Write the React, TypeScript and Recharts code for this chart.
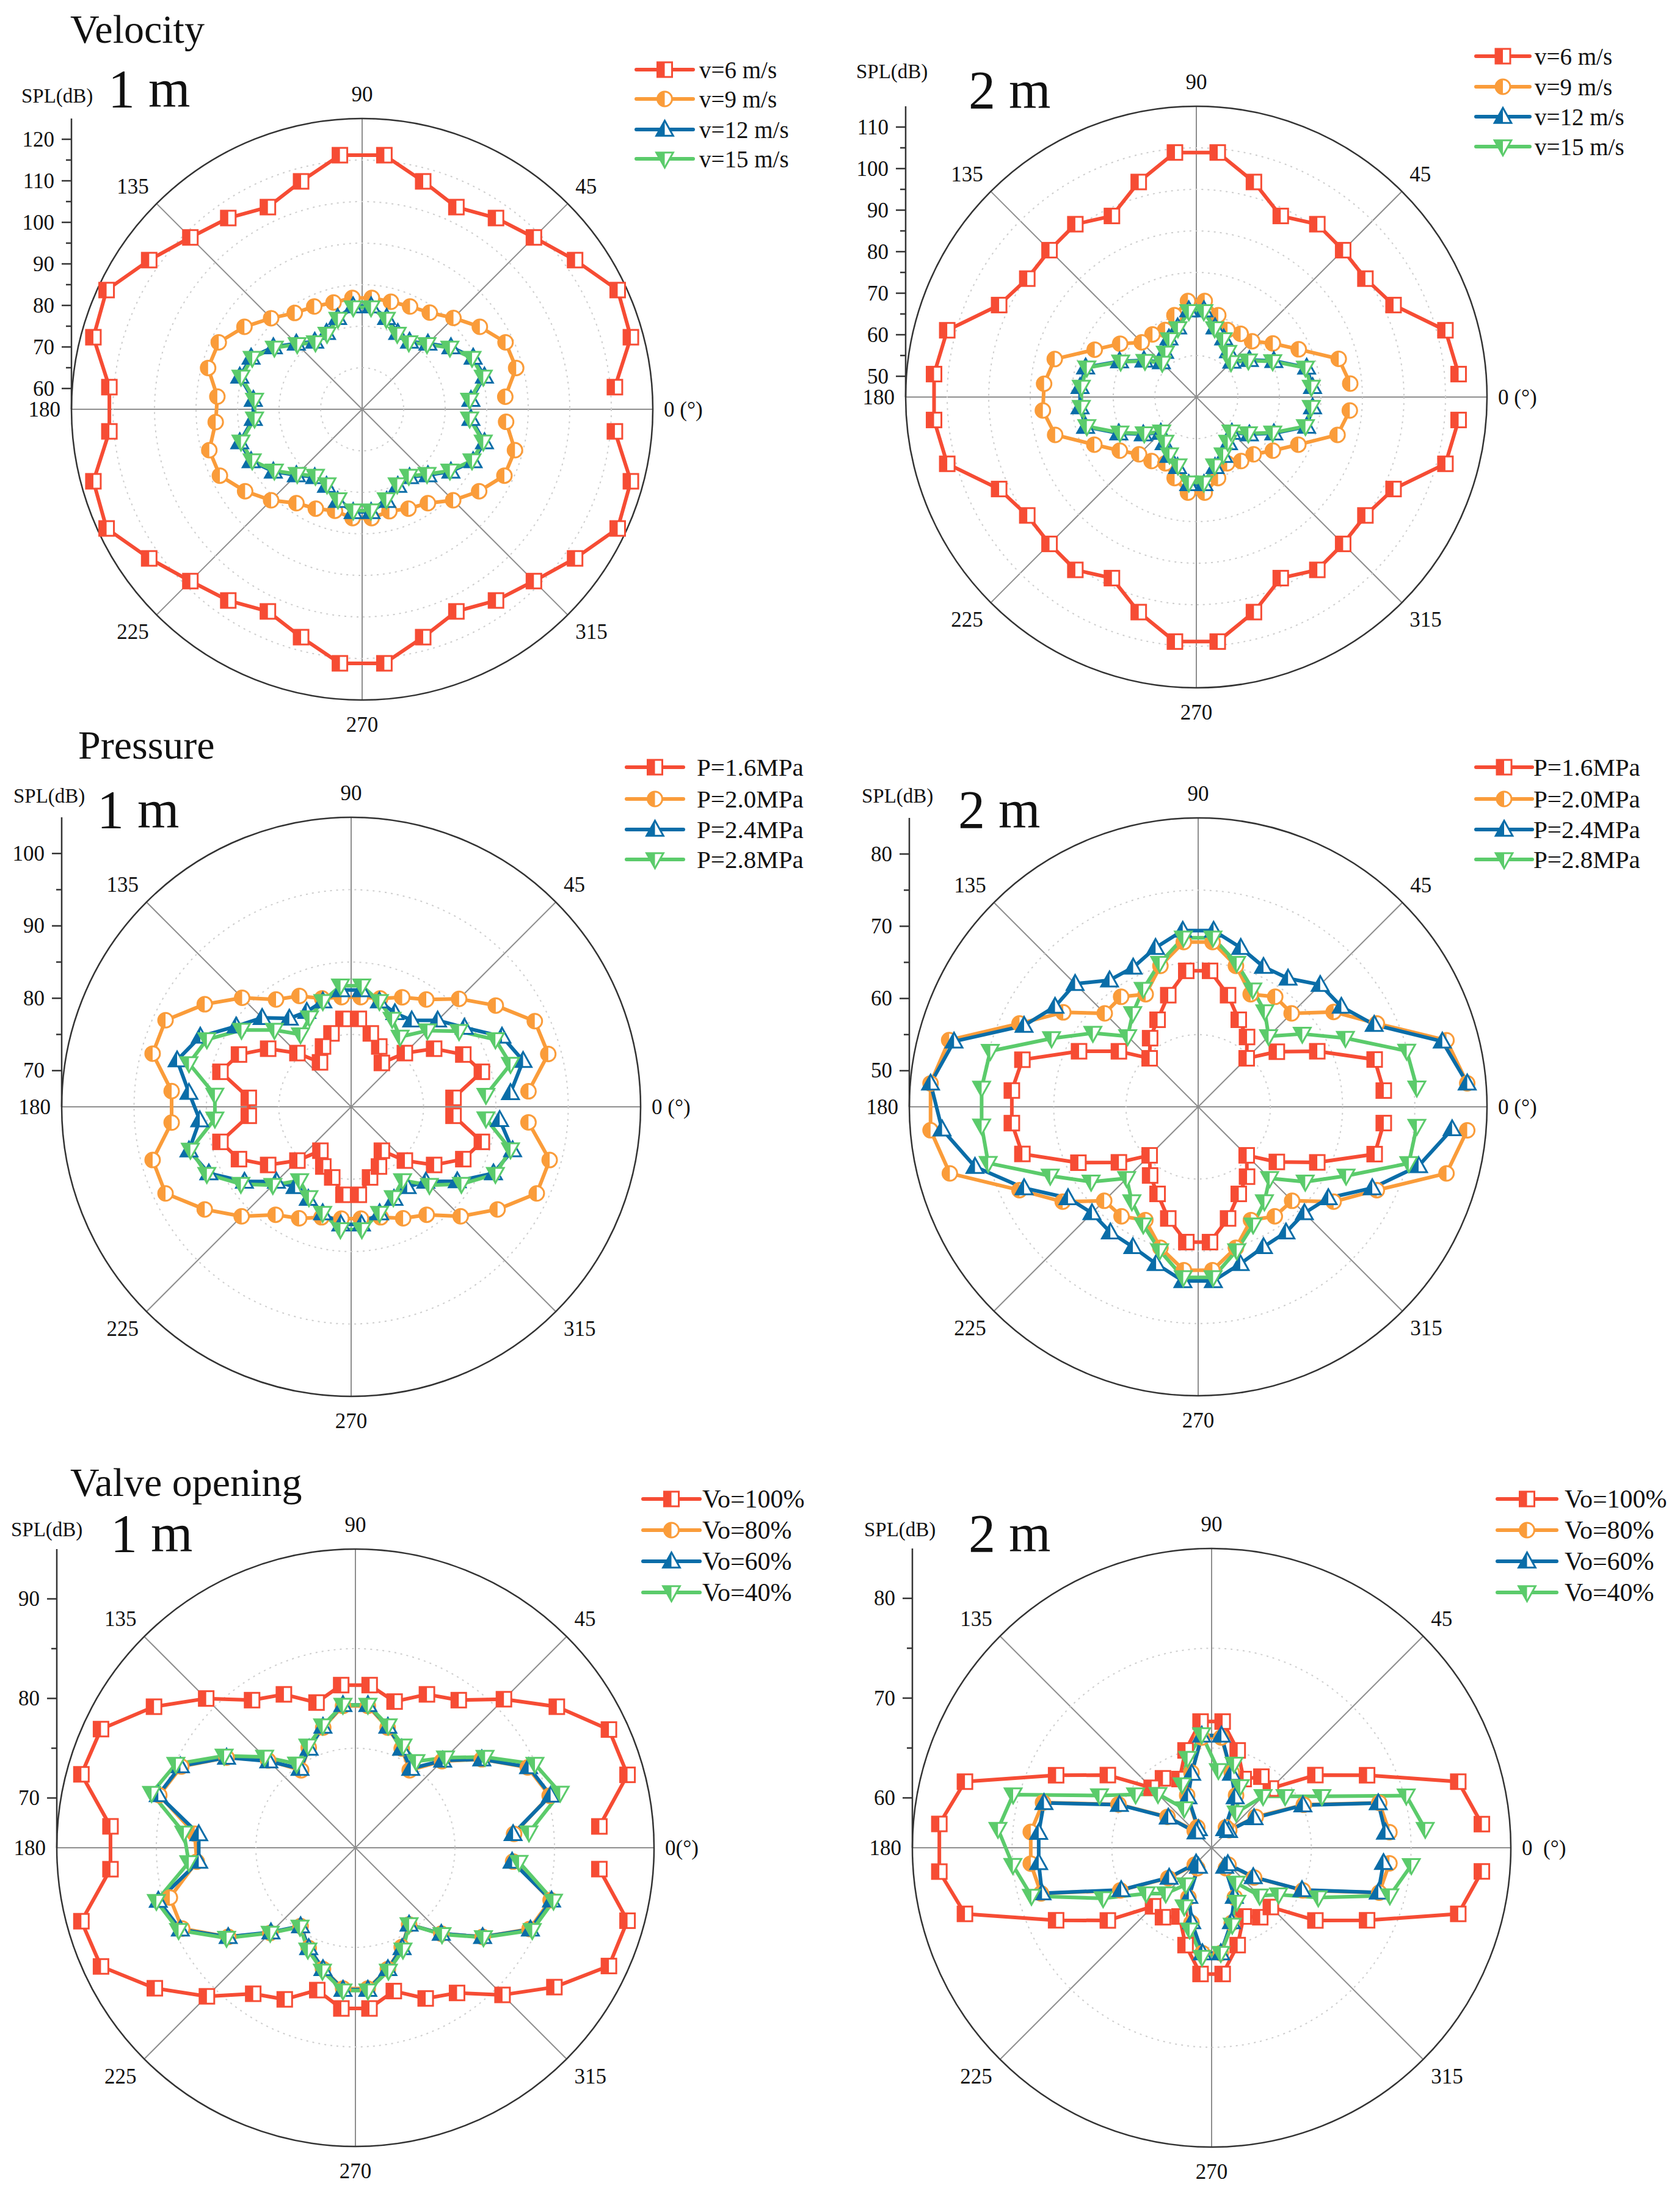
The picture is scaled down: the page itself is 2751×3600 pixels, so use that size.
import React from 'react';
import {
  RadarChart,
  Radar,
  PolarGrid,
  PolarAngleAxis,
  PolarRadiusAxis,
  ComposedChart,
  YAxis,
} from 'recharts';

const FONT = '"Liberation Serif", "Times New Roman", serif';
const RED = '#F64C34';
const ORANGE = '#FA9C3A';
const BLUE = '#0A6DA8';
const GREEN = '#5BCB6B';

// measurement directions (deg), every 10 deg starting at 5
const ANGLES = [5, 15, 25, 35, 45, 55, 65, 75, 85, 95, 105, 115, 125, 135, 145, 155, 165, 175,
  185, 195, 205, 215, 225, 235, 245, 255, 265, 275, 285, 295, 305, 315, 325, 335, 345, 355];
const ANGLE_TICKS = [0, 45, 90, 135, 180, 225, 270, 315];

// Velocity, 1 m
const VEL1_V6 = [116.1, 122.0, 122.9, 117.6, 113.5, 111.2, 108.7, 111.8, 116.4, 116.4, 111.8, 108.7, 111.2, 113.5, 117.6, 122.9, 122.0, 116.1,
  116.1, 122.0, 122.9, 117.6, 113.5, 111.2, 108.7, 111.8, 116.4, 116.4, 111.8, 108.7, 111.2, 113.5, 117.6, 122.9, 122.0, 116.1];
const VEL1_V9 = [89.6, 93.4, 93.1, 89.6, 86.1, 83.4, 82.3, 81.8, 81.9, 81.9, 81.6, 82.3, 83.3, 86.0, 89.6, 93.1, 93.4, 90.0,
  90.4, 93.1, 92.8, 89.4, 86.0, 82.6, 81.4, 80.3, 81.3, 81.3, 80.4, 81.4, 82.6, 86.0, 89.4, 92.8, 93.1, 89.8];
const VEL1_V12 = [81.3, 85.5, 84.5, 81.1, 77.4, 74.9, 75.3, 77.8, 79.9, 79.9, 77.8, 75.3, 74.9, 77.4, 81.1, 84.5, 85.5, 81.3,
  81.3, 85.5, 84.5, 81.1, 77.4, 74.9, 75.3, 77.8, 79.8, 79.8, 77.8, 75.3, 74.9, 77.4, 81.1, 84.5, 85.5, 81.3];
const VEL1_V15 = [81.0, 85.2, 84.2, 80.8, 77.1, 74.6, 75.0, 77.5, 79.6, 79.6, 77.5, 75.0, 74.6, 77.1, 80.8, 84.2, 85.2, 81.0,
  81.0, 85.2, 84.2, 80.8, 77.1, 74.6, 75.0, 77.5, 79.5, 79.5, 77.5, 75.0, 74.6, 77.1, 80.8, 84.2, 85.2, 81.0];

// Velocity, 2 m
const VEL2_V6 = [108.4, 107.1, 97.4, 94.7, 95.0, 95.8, 93.1, 98.6, 104.1, 104.1, 98.6, 93.1, 95.8, 95.0, 94.7, 97.4, 107.1, 108.4,
  108.4, 107.1, 97.4, 94.7, 95.0, 95.8, 93.1, 98.6, 104.1, 104.1, 98.6, 93.1, 95.8, 95.0, 94.7, 97.4, 107.1, 108.4];
const VEL2_V9 = [82.2, 80.5, 72.2, 67.5, 64.0, 63.6, 62.8, 65.4, 68.2, 68.2, 65.4, 62.8, 63.4, 63.6, 67.4, 72.0, 80.3, 81.8,
  82.1, 80.2, 72.1, 67.5, 64.5, 63.8, 62.6, 65.2, 68.1, 68.1, 65.2, 62.6, 63.8, 64.5, 67.5, 72.1, 80.2, 82.1];
const VEL2_V12 = [73.1, 72.5, 65.6, 60.6, 57.1, 58.5, 60.6, 62.4, 66.0, 66.0, 62.4, 60.6, 58.3, 56.9, 60.4, 65.4, 72.6, 73.1,
  73.1, 72.6, 65.6, 60.6, 57.1, 58.5, 60.6, 62.4, 66.0, 66.0, 62.4, 60.6, 58.5, 57.1, 60.6, 65.6, 72.5, 73.1];
const VEL2_V15 = [72.8, 72.2, 65.3, 60.3, 56.8, 58.2, 60.3, 62.1, 65.7, 65.7, 62.1, 60.3, 58.0, 56.6, 60.1, 65.1, 72.3, 72.8,
  72.8, 72.3, 65.3, 60.3, 56.8, 58.2, 60.3, 62.1, 65.7, 65.7, 62.1, 60.3, 58.2, 56.8, 60.3, 65.3, 72.2, 72.8];

// Pressure, 1 m
const PRE1_P16 = [79.2, 83.7, 82.1, 79.0, 75.5, 72.4, 74.2, 75.5, 77.2, 77.2, 75.5, 74.2, 72.5, 75.5, 79.0, 82.1, 83.7, 79.2,
  79.2, 83.7, 82.1, 79.0, 75.5, 72.4, 74.1, 75.1, 77.2, 77.2, 75.1, 74.1, 72.4, 75.5, 79.0, 82.1, 83.7, 79.2];
const PRE1_P20 = [89.6, 93.2, 93.0, 89.4, 86.1, 83.1, 81.7, 80.5, 80.2, 80.2, 80.5, 81.9, 83.1, 86.3, 89.7, 93.3, 93.4, 89.9,
  89.9, 93.4, 93.3, 89.7, 86.4, 83.2, 82.0, 80.8, 80.5, 80.5, 80.8, 82.0, 83.2, 86.4, 89.7, 93.3, 93.4, 89.6];
const PRE1_P24 = [87.1, 89.6, 88.0, 84.1, 81.9, 79.6, 79.3, 80.1, 81.2, 81.2, 80.1, 79.5, 79.9, 82.4, 84.4, 88.0, 89.9, 87.5,
  86.0, 88.2, 86.7, 83.0, 79.6, 78.5, 79.0, 80.2, 81.3, 81.3, 80.2, 79.0, 78.5, 79.6, 82.9, 86.7, 88.1, 85.6];
const PRE1_P28 = [83.7, 87.8, 87.0, 83.2, 79.9, 76.8, 78.4, 80.1, 81.8, 81.8, 80.1, 78.6, 77.2, 80.0, 83.5, 87.0, 88.2, 83.9,
  83.9, 88.0, 87.0, 83.6, 80.3, 77.4, 78.8, 80.2, 82.0, 82.0, 80.2, 78.8, 77.4, 80.3, 83.6, 87.0, 87.8, 83.7];

// Pressure, 2 m
const PRE2_P16 = [70.8, 70.3, 63.2, 58.3, 54.5, 56.8, 58.3, 61.0, 63.9, 63.9, 61.0, 58.3, 56.6, 54.5, 58.4, 63.2, 70.2, 70.9,
  70.9, 70.2, 63.3, 58.4, 54.5, 56.6, 58.3, 61.0, 63.8, 63.8, 61.0, 58.3, 56.8, 54.5, 58.3, 63.2, 70.3, 70.8];
const PRE2_P20 = [82.4, 80.6, 72.3, 67.9, 63.3, 63.6, 62.2, 65.2, 67.9, 67.9, 65.2, 62.2, 63.6, 63.3, 67.8, 72.3, 80.7, 82.2,
  82.2, 80.6, 72.3, 67.9, 63.4, 63.5, 62.3, 65.2, 67.7, 67.7, 65.2, 62.3, 63.5, 63.4, 67.9, 72.3, 80.6, 82.4];
const PRE2_P24 = [82.4, 80.0, 71.9, 69.2, 68.9, 66.7, 66.4, 67.8, 69.5, 69.5, 67.8, 66.3, 66.4, 69.1, 69.2, 71.6, 80.0, 82.2,
  80.6, 77.0, 71.6, 67.0, 65.8, 66.2, 66.4, 67.5, 69.2, 69.2, 67.5, 66.4, 66.2, 65.8, 67.0, 71.6, 76.6, 80.3];
const PRE2_P28 = [75.4, 74.9, 67.5, 62.6, 58.8, 61.1, 62.9, 65.6, 68.5, 68.5, 65.6, 63.0, 60.8, 58.8, 62.8, 67.4, 74.8, 75.1,
  75.1, 75.1, 67.6, 63.1, 59.0, 61.0, 63.0, 65.6, 68.7, 68.7, 65.6, 63.0, 61.0, 59.0, 63.1, 67.6, 75.2, 75.4];

// Valve opening, 1 m
const VO1_100 = [89.6, 93.3, 93.1, 89.7, 86.1, 83.1, 82.0, 80.2, 81.4, 81.4, 80.1, 82.0, 83.1, 86.2, 89.7, 93.2, 93.5, 89.7,
  89.7, 93.5, 93.2, 89.6, 86.1, 82.9, 81.8, 79.8, 81.2, 81.2, 79.9, 81.7, 82.8, 85.9, 89.4, 93.1, 93.3, 89.6];
const VO1_80 = [81.0, 85.2, 84.1, 80.5, 77.3, 74.5, 76.0, 77.5, 79.3, 79.3, 77.5, 76.1, 74.5, 77.4, 80.8, 84.3, 85.4, 81.2,
  81.0, 84.3, 84.2, 80.6, 77.1, 74.6, 76.1, 77.6, 79.2, 79.2, 77.6, 76.0, 74.4, 77.2, 80.6, 84.3, 85.3, 80.9];
const VO1_60 = [80.9, 85.3, 84.2, 80.5, 77.4, 74.7, 76.0, 77.6, 79.4, 79.4, 77.6, 76.0, 74.7, 77.3, 80.8, 84.4, 85.5, 80.8,
  80.8, 85.5, 84.4, 80.6, 77.0, 74.6, 76.1, 77.6, 79.3, 79.3, 77.6, 76.1, 74.4, 77.2, 80.6, 84.4, 85.4, 80.8];
const VO1_40 = [82.5, 86.3, 84.9, 80.9, 77.8, 75.6, 76.3, 77.7, 79.4, 79.4, 77.7, 76.3, 75.3, 77.9, 81.1, 84.9, 86.2, 82.3,
  81.8, 85.7, 84.6, 80.8, 77.1, 74.7, 76.3, 77.8, 79.4, 79.4, 77.8, 76.3, 74.4, 77.3, 80.7, 84.6, 85.6, 81.5];

// Valve opening, 2 m
const VO2_100 = [82.2, 80.6, 72.2, 67.7, 63.4, 63.7, 62.6, 65.1, 67.7, 67.7, 65.1, 62.6, 63.5, 63.5, 67.7, 72.2, 80.6, 82.4,
  82.4, 80.6, 72.2, 67.7, 63.3, 63.5, 62.6, 65.1, 67.7, 67.7, 65.1, 62.6, 63.5, 63.4, 67.7, 72.2, 80.6, 82.2];
const VO2_80 = [72.9, 72.4, 65.2, 60.4, 57.5, 57.5, 60.8, 62.8, 66.1, 66.1, 62.8, 60.8, 57.5, 57.4, 60.4, 65.3, 72.5, 73.2,
  73.2, 72.7, 65.1, 60.3, 57.4, 57.5, 60.5, 62.8, 65.6, 65.6, 62.8, 60.5, 57.5, 57.4, 60.2, 65.1, 72.4, 72.9];
const VO2_60 = [72.5, 72.3, 65.1, 60.2, 57.4, 57.3, 60.6, 62.7, 66.3, 66.3, 62.7, 60.6, 57.3, 57.2, 60.3, 65.2, 72.4, 72.4,
  72.4, 72.6, 65.0, 60.2, 57.2, 57.3, 60.4, 62.7, 65.6, 65.6, 62.7, 60.4, 57.3, 57.3, 60.1, 65.0, 72.3, 72.3];
const VO2_40 = [76.5, 75.2, 67.2, 64.0, 62.3, 59.3, 61.8, 63.7, 62.8, 66.4, 64.3, 62.0, 59.8, 62.6, 64.3, 67.4, 75.6, 76.5,
  75.0, 73.7, 67.0, 63.0, 61.5, 59.5, 61.5, 63.5, 66.0, 65.6, 63.0, 61.0, 59.3, 61.8, 63.2, 66.8, 73.5, 75.1];

const VEL_NAMES = ['v=6 m/s', 'v=9 m/s', 'v=12 m/s', 'v=15 m/s'];
const PRE_NAMES = ['P=1.6MPa', 'P=2.0MPa', 'P=2.4MPa', 'P=2.8MPa'];
const VO_NAMES = ['Vo=100%', 'Vo=80%', 'Vo=60%', 'Vo=40%'];

type MarkerKind = 'square' | 'circle' | 'up' | 'down';
const KINDS: MarkerKind[] = ['square', 'circle', 'up', 'down'];
const COLORS = [RED, ORANGE, BLUE, GREEN];
const LINE_W = 6;

interface PanelDef {
  cx: number;
  cy: number;
  r: number;
  domain: [number, number];
  rings: number[];
  axisTicks: number[];
  names: string[];
  series: number[][];
  zero: string;
  title?: { text: string; x: number; y: number };
  dist: { text: string; x: number; y: number };
  spl: { x: number; y: number };
  legend: { x0: number; x1: number; tx: number; rows: number[]; font: number };
}

const PANELS: PanelDef[] = [
  {
    cx: 593, cy: 670, r: 476, domain: [55, 125],
    rings: [65, 75, 85, 95, 105, 115, 125],
    axisTicks: [60, 65, 70, 75, 80, 85, 90, 95, 100, 105, 110, 115, 120],
    names: VEL_NAMES, series: [VEL1_V6, VEL1_V9, VEL1_V12, VEL1_V15], zero: '0 (°)',
    title: { text: 'Velocity', x: 115, y: 70 },
    dist: { text: '1 m', x: 177, y: 175 }, spl: { x: 35, y: 168 },
    legend: { x0: 1042, x1: 1135, tx: 1145, rows: [114, 162, 212, 260], font: 39 },
  },
  {
    cx: 1959, cy: 650, r: 476, domain: [45, 115],
    rings: [55, 65, 75, 85, 95, 105, 115],
    axisTicks: [50, 55, 60, 65, 70, 75, 80, 85, 90, 95, 100, 105, 110],
    names: VEL_NAMES, series: [VEL2_V6, VEL2_V9, VEL2_V12, VEL2_V15], zero: '0 (°)',
    dist: { text: '2 m', x: 1586, y: 177 }, spl: { x: 1402, y: 128 },
    legend: { x0: 2417, x1: 2505, tx: 2513, rows: [92, 142, 191, 240], font: 39 },
  },
  {
    cx: 575, cy: 1812, r: 474, domain: [65, 105],
    rings: [75, 85, 95, 105],
    axisTicks: [70, 75, 80, 85, 90, 95, 100],
    names: PRE_NAMES, series: [PRE1_P16, PRE1_P20, PRE1_P24, PRE1_P28], zero: '0 (°)',
    title: { text: 'Pressure', x: 128, y: 1242 },
    dist: { text: '1 m', x: 159, y: 1355 }, spl: { x: 22, y: 1314 },
    legend: { x0: 1026, x1: 1119, tx: 1141, rows: [1256, 1308, 1358, 1407], font: 41 },
  },
  {
    cx: 1962, cy: 1812, r: 473, domain: [45, 85],
    rings: [55, 65, 75, 85],
    axisTicks: [50, 55, 60, 65, 70, 75, 80],
    names: PRE_NAMES, series: [PRE2_P16, PRE2_P20, PRE2_P24, PRE2_P28], zero: '0 (°)',
    dist: { text: '2 m', x: 1569, y: 1355 }, spl: { x: 1411, y: 1314 },
    legend: { x0: 2417, x1: 2509, tx: 2511, rows: [1256, 1308, 1358, 1407], font: 41 },
  },
  {
    cx: 582, cy: 3025, r: 489, domain: [65, 95],
    rings: [75, 85, 95],
    axisTicks: [70, 75, 80, 85, 90],
    names: VO_NAMES, series: [VO1_100, VO1_80, VO1_60, VO1_40], zero: '0(°)',
    title: { text: 'Valve opening', x: 115, y: 2449 },
    dist: { text: '1 m', x: 181, y: 2540 }, spl: { x: 18, y: 2515 },
    legend: { x0: 1053, x1: 1146, tx: 1150, rows: [2454, 2505, 2556, 2607], font: 42 },
  },
  {
    cx: 1984, cy: 3025, r: 490, domain: [55, 85],
    rings: [65, 75, 85],
    axisTicks: [60, 65, 70, 75, 80],
    names: VO_NAMES, series: [VO2_100, VO2_80, VO2_60, VO2_40], zero: '0\u00a0\u00a0(°)',
    dist: { text: '2 m', x: 1586, y: 2540 }, spl: { x: 1415, y: 2515 },
    legend: { x0: 2452, x1: 2549, tx: 2562, rows: [2454, 2505, 2556, 2607], font: 42 },
  },
];

const Marker = ({ kind, x, y, color }: { kind: MarkerKind; x: number; y: number; color: string }) => {
  const s = 12;
  const sw = 3;
  if (kind === 'square') {
    return (
      <g>
        <rect x={x - s} y={y - s} width={2 * s} height={2 * s} fill="#fff" stroke={color} strokeWidth={sw} />
        <rect x={x - s} y={y - s} width={s} height={2 * s} fill={color} />
      </g>
    );
  }
  if (kind === 'circle') {
    return (
      <g>
        <circle cx={x} cy={y} r={s} fill="#fff" stroke={color} strokeWidth={sw} />
        <path d={`M${x},${y - s}A${s},${s} 0 0 0 ${x},${y + s}Z`} fill={color} />
      </g>
    );
  }
  const t = kind === 'up' ? 1 : -1;
  const apex = y - t * s * 1.2;
  const base = y + t * s * 0.85;
  const w = s * 1.15;
  return (
    <g>
      <path d={`M${x},${apex}L${x + w},${base}L${x - w},${base}Z`} fill="#fff" stroke={color} strokeWidth={sw} />
      <path d={`M${x},${apex}L${x},${base}L${x - w},${base}Z`} fill={color} />
    </g>
  );
};

// open polyline through the points Recharts computed (no closing segment at 0 deg)
const OpenCurve = (props: any) => {
  const pts = (props.points || []).filter((pt: any) => Number.isFinite(pt.x) && Number.isFinite(pt.y));
  const d = pts.map((pt: any, i: number) => `${i === 0 ? 'M' : 'L'}${pt.x},${pt.y}`).join('');
  return <path d={d} fill="none" stroke={props.stroke} strokeWidth={LINE_W} strokeLinejoin="round" strokeLinecap="round" />;
};

const AngleTick = (props: any) => {
  const { x, y, payload, textAnchor, zero } = props;
  const a = payload.value as number;
  const dy = -22 * Math.sin((a * Math.PI) / 180);
  return (
    <text x={x} y={y + dy} textAnchor={textAnchor} dominantBaseline="central" fontFamily={FONT} fontSize={35} fill="#111">
      {a === 0 ? zero : String(a)}
    </text>
  );
};

const RadialTick = (props: any) => {
  const { x, y, payload } = props;
  const major = payload.value % 10 === 0;
  return (
    <g>
      <line x1={x - (major ? 16 : 9)} x2={x} y1={y} y2={y} stroke="#333" strokeWidth={2.5} />
      {major && (
        <text x={x - 28} y={y} textAnchor="end" dominantBaseline="central" fontFamily={FONT} fontSize={35} fill="#111">
          {payload.value}
        </text>
      )}
    </g>
  );
};

const PAD = 130;
const AW = 140;

const Panel = ({ p }: { p: PanelDef }) => {
  const size = 2 * p.r + 2 * PAD;
  const data = ANGLES.map((a, i) => {
    const row: any = { angle: a };
    p.series.forEach((s, k) => {
      row['s' + k] = s[i];
    });
    return row;
  });

  return (
    <>
      <div style={{ position: 'absolute', left: p.cx - p.r - PAD, top: p.cy - p.r - PAD }}>
        <RadarChart
          width={size}
          height={size}
          cx={p.r + PAD}
          cy={p.r + PAD}
          innerRadius={0}
          outerRadius={p.r}
          startAngle={0}
          endAngle={360}
          data={data}
          margin={{ top: 0, right: 0, bottom: 0, left: 0 }}
        >
          <PolarGrid gridType="circle" polarRadius={[]} stroke="#8e8e8e" strokeWidth={2} />
          <PolarGrid gridType="circle" polarAngles={[]} radialLines={false} stroke="#cdcdcd" strokeWidth={2} strokeDasharray="3 7" />
          <PolarAngleAxis
            dataKey="angle"
            type="number"
            domain={[0, 360]}
            ticks={ANGLE_TICKS}
            axisLineType="circle"
            axisLine={{ stroke: '#333', strokeWidth: 2.5 }}
            tickLine={false}
            tickSize={18}
            tick={(t: any) => <AngleTick {...t} zero={p.zero} />}
          />
          <PolarRadiusAxis type="number" domain={p.domain} ticks={p.rings} tick={false} axisLine={false} tickLine={false} />
          {p.series.map((_, k) => (
            <Radar
              key={k}
              dataKey={'s' + k}
              name={p.names[k]}
              stroke={COLORS[k]}
              strokeWidth={LINE_W}
              fill="none"
              fillOpacity={0}
              isAnimationActive={false}
              activeDot={false}
              shape={(sp: any) => <OpenCurve {...sp} stroke={COLORS[k]} />}
              dot={(d: any) =>
                Number.isFinite(d.cx) && Number.isFinite(d.cy) ? (
                  <Marker key={`m${k}-${d.index}`} kind={KINDS[k]} x={d.cx} y={d.cy} color={COLORS[k]} />
                ) : (
                  <g key={`m${k}-${d.index}`} />
                )
              }
            />
          ))}
        </RadarChart>
      </div>
      <div style={{ position: 'absolute', left: p.cx - p.r - AW, top: p.cy - p.r - 20 }}>
        <ComposedChart
          width={AW + 10}
          height={p.r + 40}
          data={[{ v: p.domain[0] }, { v: p.domain[1] }]}
          margin={{ top: 20, right: 0, bottom: 20, left: 0 }}
        >
          <YAxis
            dataKey="v"
            type="number"
            domain={p.domain}
            ticks={p.axisTicks}
            interval={0}
            width={AW}
            allowDataOverflow
            axisLine={{ stroke: '#333', strokeWidth: 2.5 }}
            tickLine={false}
            tickSize={0}
            tickMargin={0}
            tick={<RadialTick />}
          />
        </ComposedChart>
      </div>
    </>
  );
};

const Annotations = () => (
  <svg width={2751} height={3600} style={{ position: 'absolute', left: 0, top: 0, pointerEvents: 'none' }}>
    {PANELS.map((p, i) => (
      <g key={i} fontFamily={FONT} fill="#111">
        {p.title && (
          <text x={p.title.x} y={p.title.y} fontSize={66}>
            {p.title.text}
          </text>
        )}
        <text x={p.dist.x} y={p.dist.y} fontSize={88}>
          {p.dist.text}
        </text>
        <text x={p.spl.x} y={p.spl.y} fontSize={33}>
          SPL(dB)
        </text>
        {p.names.map((n, k) => {
          const y = p.legend.rows[k];
          return (
            <g key={n}>
              <line x1={p.legend.x0} x2={p.legend.x1} y1={y} y2={y} stroke={COLORS[k]} strokeWidth={LINE_W} strokeLinecap="round" />
              <Marker kind={KINDS[k]} x={(p.legend.x0 + p.legend.x1) / 2} y={y} color={COLORS[k]} />
              <text x={p.legend.tx} y={y} dominantBaseline="central" fontSize={p.legend.font}>
                {n}
              </text>
            </g>
          );
        })}
      </g>
    ))}
  </svg>
);

export default function App() {
  return (
    <div
      style={{
        position: 'absolute',
        left: 0,
        top: 0,
        width: 2751,
        height: 3600,
        background: '#fff',
        overflow: 'hidden',
        fontFamily: FONT,
      }}
    >
      {PANELS.map((p, i) => (
        <Panel key={i} p={p} />
      ))}
      <Annotations />
    </div>
  );
}
